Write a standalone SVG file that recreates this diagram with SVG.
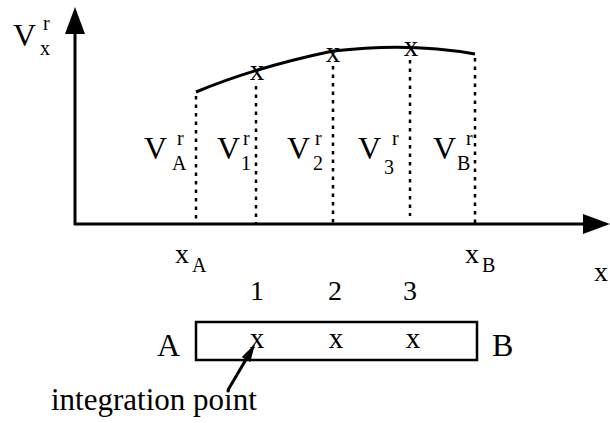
<svg xmlns="http://www.w3.org/2000/svg" width="610" height="423" viewBox="0 0 610 423" font-family="'Liberation Serif', 'DejaVu Serif', serif">
<style>
text{font-family:'Liberation Serif','DejaVu Serif',serif;fill:#000}
.big{font-size:32px}
.sm{font-size:20px}
.mk{font-size:29px;text-anchor:middle}
.num{font-size:28px;text-anchor:middle}
.ax{font-size:28px}
.axis{stroke:#000;stroke-width:3;fill:none}
.dot{stroke:#000;stroke-width:2.5;stroke-dasharray:3.5 5;fill:none}
</style>
<defs>
<marker id="ah" markerUnits="userSpaceOnUse" viewBox="0 0 27 20" markerWidth="27" markerHeight="20" refX="17" refY="10" orient="auto">
<path d="M0,0 L27,10 L0,20 z" fill="#000"/>
</marker>
<marker id="ahs" markerUnits="userSpaceOnUse" viewBox="0 0 18 10" markerWidth="18" markerHeight="10" refX="10" refY="5" orient="auto">
<path d="M0,0 L18,5 L0,10 z" fill="#000"/>
</marker>
</defs>
<g id="connectors">
<line class="axis" x1="75" y1="225" x2="75" y2="17" marker-end="url(#ah)"/>
<line class="axis" x1="74" y1="224" x2="600" y2="224" marker-end="url(#ah)"/>
<path class="axis" d="M196,92 Q256,67 333,51 Q410,42 475,54"/>
<line class="dot" x1="196" y1="96" x2="196" y2="224"/>
<line class="dot" x1="256" y1="86" x2="256" y2="224"/>
<line class="dot" x1="333" y1="66" x2="333" y2="224"/>
<line class="dot" x1="410" y1="60" x2="410" y2="216"/>
<line class="dot" x1="475" y1="58" x2="475" y2="224"/>
<line x1="228" y1="390" x2="251" y2="351" stroke="#000" stroke-width="3" marker-end="url(#ahs)"/>
</g>
<g id="axis-labels">
<text class="big" x="13" y="46">V</text><text class="sm" x="40" y="55">x</text><text class="sm" x="43" y="30">r</text>
<text class="ax" x="175" y="263">x</text><text class="sm" x="192" y="272">A</text>
<text class="ax" x="465" y="263">x</text><text class="sm" x="482" y="272">B</text>
<text class="ax" x="594" y="281">x</text>
</g>
<g id="curve-marks">
<text class="mk" x="257" y="80">x</text>
<text class="mk" x="333" y="62">x</text>
<text class="mk" x="411" y="56">x</text>
</g>
<g id="value-labels">
<text class="big" x="144" y="159">V</text><text class="sm" x="172" y="170">A</text><text class="sm" x="177" y="145">r</text>
<text class="big" x="217" y="159">V</text><text class="sm" x="241" y="170">1</text><text class="sm" x="243" y="145">r</text>
<text class="big" x="287" y="159">V</text><text class="sm" x="313" y="170">2</text><text class="sm" x="315" y="145">r</text>
<text class="big" x="358" y="159">V</text><text class="sm" x="384" y="174">3</text><text class="sm" x="392" y="145">r</text>
<text class="big" x="433" y="159">V</text><text class="sm" x="457" y="170">B</text><text class="sm" x="466" y="145">r</text>
</g>
<g id="element">
<rect x="196" y="322" width="281" height="38" fill="none" stroke="#000" stroke-width="2.5"/>
<text class="big" x="157" y="356">A</text>
<text class="big" x="492" y="356">B</text>
<text class="mk" x="257" y="348">x</text>
<text class="mk" x="336" y="348">x</text>
<text class="mk" x="413" y="348">x</text>
<text class="num" x="257" y="300">1</text>
<text class="num" x="335" y="300">2</text>
<text class="num" x="410" y="300">3</text>
</g>
<g id="note">
<text style="font-size:31px" x="51" y="410">integration point</text>
</g>
</svg>
